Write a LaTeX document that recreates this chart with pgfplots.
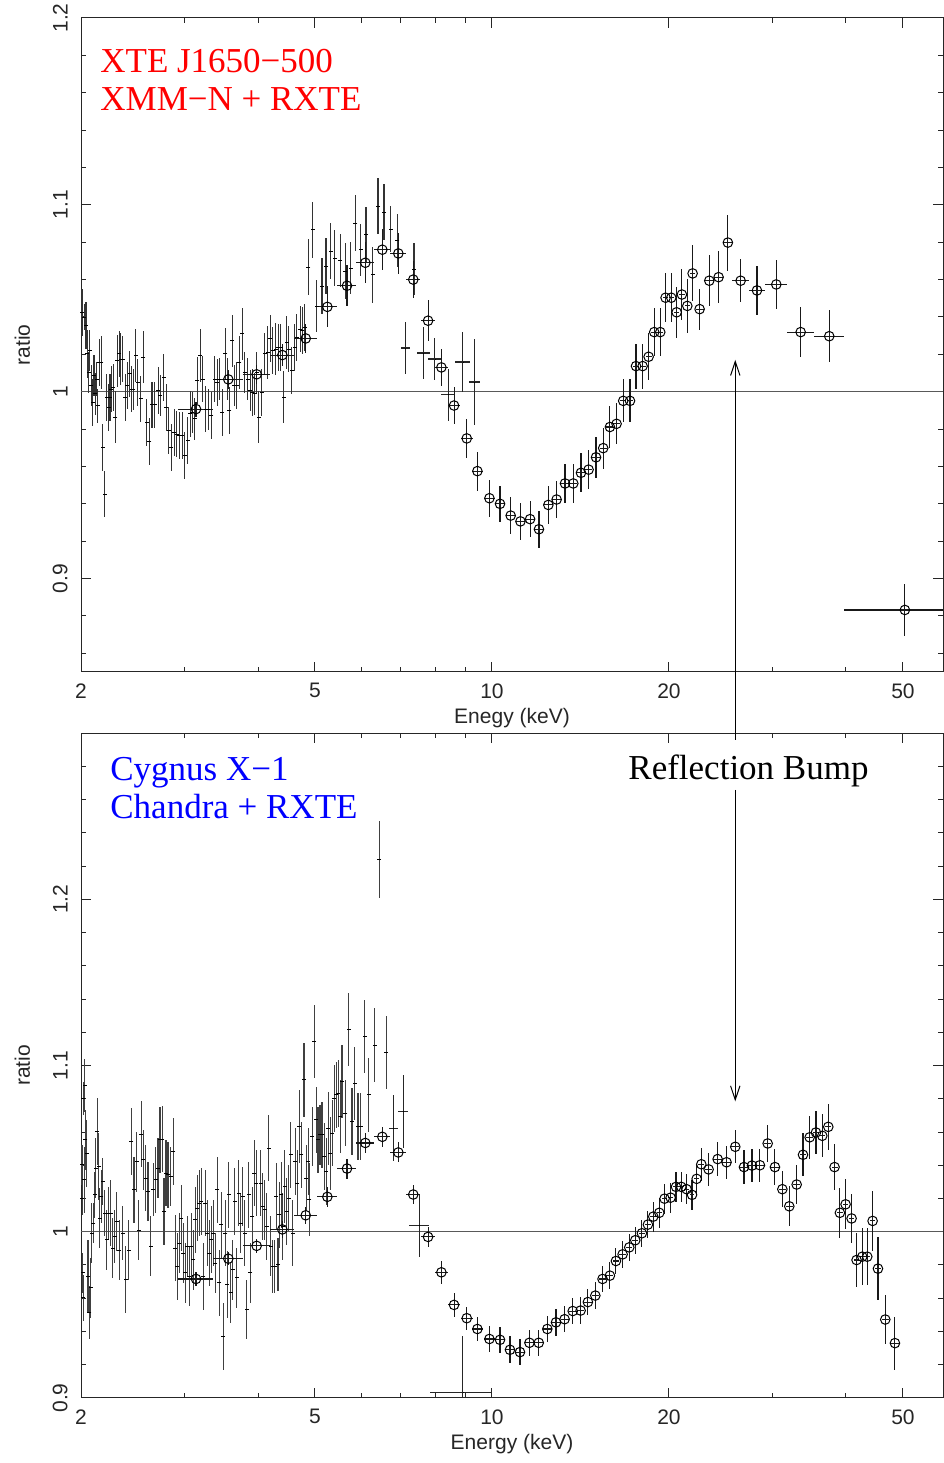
\documentclass[border=0pt]{standalone}
\usepackage{fontspec}
\setmainfont{Liberation Serif}
\newfontfamily\tickfont{Liberation Sans}
\usepackage{pgfplots}
\usepackage{pgfplotstable}
\pgfplotsset{compat=1.18}
\usetikzlibrary{arrows.meta}

\pgfplotstableread{
x y ey
2.008 1.0424 0.0125
2.024 1.0398 0.007
2.039 1.0353 0.0125
2.050 1.0202 0.013
2.061 1.0103 0.011
2.071 1.0219 0.011
2.082 1.0032 0.011
2.093 0.9943 0.0125
2.104 1.0086 0.011
2.115 0.9988 0.011
2.126 1.0068 0.009
2.137 0.9925 0.009
2.148 1.0157 0.0125
2.165 1.0157 0.014
2.176 0.9702 0.0125
2.194 0.9452 0.0125
2.211 0.9970 0.0125
2.229 0.9916 0.0125
2.240 0.9970 0.0125
2.252 1.0014 0.0125
2.269 1.0023 0.0125
2.287 0.9863 0.014
2.305 1.0166 0.014
2.323 1.0202 0.0125
2.335 1.0175 0.014
2.353 1.0175 0.0125
2.378 0.9970 0.0125
2.396 1.0032 0.0125
2.421 1.0095 0.0125
2.441 1.0014 0.0125
2.454 1.0014 0.011
2.479 1.0193 0.014
2.499 1.0050 0.0125
2.525 0.9961 0.0125
2.553 1.0184 0.014
2.586 0.9836 0.0125
2.613 0.9732 0.0125
2.641 0.9929 0.0125
2.670 0.9929 0.0125
2.705 1.0005 0.0125
2.727 0.9979 0.011
2.763 1.0077 0.0125
2.792 0.9916 0.0125
2.821 0.9791 0.0125
2.850 0.9702 0.0125
2.881 0.9782 0.0125
2.911 0.9773 0.0125
2.941 0.9765 0.0125
2.972 0.9765 0.0125
3.003 0.9658 0.0125
3.035 0.9738 0.0125
3.066 0.9881 0.0125
3.091 0.9889 0.011
3.123 0.9854 0.011
3.156 1.0059 0.0125
3.189 1.0193 0.014
3.223 1.0068 0.0125
3.257 0.9907 0.0125
3.291 0.9907 0.011
3.334 0.9872 0.0125
3.378 1.0068 0.0125
3.413 1.0050 0.0125
3.439 1.0068 0.011
3.475 0.9889 0.0125
3.521 1.0202 0.014
3.548 1.0068 0.011
3.576 0.9898 0.0125
3.614 1.0273 0.014
3.642 1.0032 0.011
3.680 1.0032 0.0125
3.719 1.0157 0.014
3.760 1.0309 0.014
3.799 1.0103 0.011
3.839 1.0068 0.011
3.880 1.0005 0.011
3.910 0.9996 0.0125
3.951 0.9988 0.011
3.983 1.0103 0.011
4.014 0.9863 0.014
4.056 0.9996 0.0125
4.110 1.0202 0.011
4.153 1.0210 0.014
4.196 1.0285 0.0125
4.240 1.0219 0.0125
4.285 1.0228 0.014
4.330 1.0237 0.0125
4.375 1.0237 0.0125
4.421 0.9970 0.014
4.479 1.0264 0.014
4.514 1.0228 0.0125
4.561 1.0112 0.0125
4.621 1.0237 0.0125
4.658 1.0291 0.0125
4.719 1.0335 0.0125
4.756 1.0326 0.0125
4.806 1.0344 0.0125
4.872 1.0665 0.015
4.956 1.0867 0.015
5.034 1.0457 0.014
5.140 1.0564 0.015
5.221 1.0671 0.015
5.318 1.0751 0.015
5.402 1.0715 0.015
5.516 1.0703 0.014
5.625 1.0644 0.015
5.750 1.0662 0.014
5.857 1.0902 0.015
5.981 1.0760 0.014
6.107 1.0840 0.015
6.268 1.0626 0.015
6.400 1.0992 0.015
6.553 1.0960 0.015
6.727 1.0870 0.0125
6.904 1.0810 0.014
7.370 1.0656 0.014
}\topxmm

\pgfplotstableread{
x y exl exu ey
7.124 1.0234 0.12 0.12 0.014
7.645 1.0207 0.20 0.20 0.014
7.993 1.0175 0.20 0.20 0.011
8.432 0.9984 0.23 0.23 0.014
8.918 1.0159 0.26 0.26 0.016
9.335 1.0052 0.20 0.20 0.023
}\topwide

\pgfplotstableread{
x y exl exu ey
3.138 0.9907 0.21 0.21 0.004
3.561 1.0066 0.21 0.21 0.005
3.979 1.0093 0.21 0.21 0.005
4.400 1.0196 0.21 0.21 0.006
4.822 1.0285 0.21 0.21 0.008
5.248 1.0454 0.21 0.21 0.011
5.668 1.0567 0.21 0.21 0.011
6.090 1.0690 0.21 0.21 0.011
6.509 1.0760 0.21 0.21 0.011
6.930 1.0740 0.21 0.21 0.011
7.348 1.0600 0.21 0.21 0.010
7.786 1.0380 0.21 0.21 0.011
8.203 1.0130 0.21 0.21 0.010
8.620 0.9926 0.21 0.21 0.010
9.059 0.9750 0.21 0.21 0.0105
9.444 0.9575 0.21 0.21 0.0105
9.900 0.9430 0.21 0.21 0.0098
10.32 0.9400 0.21 0.21 0.0098
10.76 0.9337 0.21 0.21 0.0098
11.18 0.9306 0.21 0.21 0.0098
11.61 0.9318 0.21 0.21 0.0098
12.02 0.9264 0.21 0.21 0.0098
12.47 0.9394 0.21 0.21 0.010
12.88 0.9423 0.21 0.21 0.010
13.31 0.9509 0.21 0.21 0.0105
13.75 0.9509 0.21 0.21 0.0105
14.17 0.9566 0.21 0.21 0.0105
14.60 0.9583 0.21 0.21 0.0105
15.03 0.9649 0.21 0.21 0.011
15.46 0.9698 0.21 0.21 0.011
15.87 0.9811 0.21 0.21 0.011
16.29 0.9828 0.21 0.21 0.011
16.72 0.9951 0.21 0.21 0.0115
17.17 0.9951 0.21 0.21 0.0115
17.58 1.0137 0.21 0.21 0.012
18.04 1.0137 0.21 0.21 0.012
18.47 1.0187 0.21 0.21 0.0125
18.88 1.0319 0.21 0.21 0.013
19.33 1.0319 0.21 0.21 0.013
19.74 1.0503 0.21 0.21 0.013
20.18 1.0503 0.21 0.21 0.013
20.61 1.0425 0.21 0.21 0.0135
21.04 1.0520 0.22 0.22 0.0135
21.49 1.0459 0.22 0.22 0.0145
21.94 1.0633 0.22 0.22 0.015
22.55 1.0442 0.35 0.35 0.011
23.42 1.0594 0.43 0.43 0.0135
24.29 1.0613 0.44 0.44 0.014
25.19 1.0798 0.45 0.45 0.015
26.48 1.0594 0.85 0.85 0.0115
28.23 1.0542 0.88 0.88 0.013
30.45 1.0574 1.30 1.30 0.013
33.50 1.0319 1.75 1.75 0.0135
37.47 1.0297 2.20 2.20 0.014
50.38 0.8832 10.7 13.6 0.014
}\toprxte

\pgfplotstableread{
x y ey
2.008 1.0402 0.012
2.011 1.0202 0.010
2.013 0.9752 0.012
2.016 0.9602 0.014
2.019 1.0800 0.010
2.024 1.0312 0.020
2.029 1.0880 0.016
2.034 1.0553 0.018
2.045 1.0472 0.020
2.055 0.9732 0.022
2.066 0.9512 0.016
2.077 0.9662 0.018
2.087 0.9992 0.018
2.098 1.0052 0.012
2.109 1.0222 0.014
2.120 1.0382 0.018
2.131 1.0603 0.020
2.142 1.0392 0.020
2.153 1.0082 0.018
2.165 1.0212 0.016
2.176 1.0302 0.014
2.194 1.0112 0.014
2.211 0.9952 0.018
2.229 1.0112 0.016
2.246 1.0112 0.020
2.264 0.9902 0.018
2.282 0.9972 0.016
2.300 1.0062 0.018
2.323 0.9888 0.018
2.353 0.9992 0.016
2.384 0.9712 0.020
2.409 0.9888 0.018
2.435 1.0543 0.020
2.461 1.0252 0.020
2.486 1.0422 0.018
2.506 1.0008 0.018
2.533 1.0587 0.020
2.553 1.0432 0.018
2.579 1.0322 0.020
2.600 1.0242 0.018
2.627 0.9912 0.018
2.655 1.0252 0.016
2.682 1.0312 0.020
2.704 1.0382 0.018
2.725 1.0553 0.020
2.747 1.0557 0.020
2.768 1.0122 0.020
2.790 1.0352 0.020
2.812 1.0342 0.020
2.842 1.0332 0.018
2.871 1.0482 0.020
2.894 0.9902 0.020
2.917 0.9792 0.020
2.940 0.9932 0.018
2.963 1.0082 0.020
2.986 0.9872 0.018
3.010 0.9752 0.018
3.033 0.9912 0.018
3.057 0.9732 0.018
3.081 0.9912 0.020
3.105 0.9832 0.018
3.129 1.0072 0.020
3.154 1.0142 0.020
3.178 1.0172 0.020
3.203 1.0182 0.020
3.229 0.9732 0.020
3.254 1.0172 0.020
3.280 0.9992 0.020
3.305 0.9872 0.020
3.331 0.9952 0.020
3.357 0.9992 0.020
3.384 0.9812 0.018
3.410 1.0252 0.020
3.437 0.9692 0.020
3.464 1.0042 0.020
3.491 0.9371 0.020
3.519 0.9992 0.020
3.546 0.9682 0.020
3.565 1.0222 0.020
3.593 0.9632 0.018
3.621 0.9772 0.018
3.650 1.0182 0.020
3.678 0.9722 0.018
3.707 1.0232 0.020
3.736 1.0052 0.018
3.765 1.0212 0.018
3.795 0.9992 0.020
3.824 0.9532 0.018
3.854 1.0222 0.020
3.884 0.9752 0.018
3.914 1.0092 0.018
3.945 1.0352 0.020
3.976 1.0292 0.020
4.043 1.0292 0.020
4.074 1.0152 0.020
4.106 1.0132 0.018
4.139 1.0032 0.020
4.171 1.0503 0.020
4.204 0.9912 0.018
4.237 0.9792 0.016
4.270 0.9792 0.016
4.293 1.0212 0.020
4.326 0.9802 0.016
4.349 1.0102 0.020
4.383 1.0222 0.020
4.406 1.0032 0.020
4.441 1.0272 0.022
4.476 1.0122 0.020
4.511 1.0202 0.020
4.547 1.0462 0.020
4.582 0.9992 0.020
4.630 1.0422 0.020
4.667 1.0292 0.020
4.703 1.0633 0.022
4.740 1.0462 0.020
4.790 1.0913 0.022
4.828 1.0322 0.020
4.866 1.0422 0.020
4.891 1.0192 0.022
4.943 1.0573 0.018
4.982 1.1143 0.022
5.021 1.0673 0.020
5.060 1.0553 0.020
5.100 1.0583 0.018
5.140 1.0583 0.020
5.181 1.0452 0.020
5.222 1.0362 0.020
5.263 1.0623 0.022
5.304 1.0472 0.022
5.346 1.0593 0.020
5.388 1.0803 0.020
5.430 1.0823 0.020
5.473 1.0833 0.020
5.516 1.0693 0.022
5.559 1.0903 0.022
5.632 1.0713 0.020
5.706 1.1217 0.022
5.781 1.0663 0.020
5.842 1.0893 0.022
5.918 1.0633 0.020
5.981 1.0633 0.020
6.075 1.1173 0.022
6.171 1.0823 0.022
6.318 1.1123 0.022
6.430 1.2240 0.023
6.605 1.1077 0.022
}\botchandra

\pgfplotstableread{
x y exl exu ey
6.797 1.0623 0.12 0.12 0.020
7.068 1.0723 0.14 0.14 0.022
7.520 1.0037 0.30 0.30 0.019
8.920 0.9034 1.07 1.08 0.034
}\botwide

\pgfplotstableread{
x y exl exu ey
3.138 0.9716 0.21 0.21 0.004
3.561 0.9838 0.21 0.21 0.004
3.979 0.9915 0.21 0.21 0.004
4.400 1.0014 0.21 0.21 0.005
4.822 1.0099 0.21 0.21 0.005
5.248 1.0210 0.21 0.21 0.006
5.668 1.0380 0.21 0.21 0.006
6.090 1.0534 0.21 0.21 0.006
6.509 1.0571 0.21 0.21 0.006
6.930 1.0477 0.21 0.21 0.006
7.348 1.0224 0.21 0.21 0.006
7.786 0.9969 0.21 0.21 0.006
8.203 0.9756 0.21 0.21 0.007
8.620 0.9560 0.21 0.21 0.007
9.059 0.9480 0.21 0.21 0.007
9.444 0.9415 0.21 0.21 0.007
9.900 0.9355 0.21 0.21 0.008
10.32 0.9350 0.21 0.21 0.008
10.73 0.9290 0.21 0.21 0.008
11.16 0.9276 0.21 0.21 0.008
11.58 0.9332 0.21 0.21 0.008
12.01 0.9332 0.21 0.21 0.008
12.42 0.9415 0.21 0.21 0.008
12.85 0.9455 0.21 0.21 0.008
13.29 0.9474 0.21 0.21 0.008
13.72 0.9523 0.21 0.21 0.008
14.15 0.9526 0.21 0.21 0.008
14.56 0.9577 0.21 0.21 0.008
14.99 0.9616 0.21 0.21 0.008
15.42 0.9716 0.21 0.21 0.008
15.87 0.9736 0.21 0.21 0.008
16.25 0.9824 0.21 0.21 0.008
16.68 0.9864 0.21 0.21 0.008
17.12 0.9906 0.21 0.21 0.008
17.53 0.9949 0.21 0.21 0.008
17.99 0.9991 0.21 0.21 0.008
18.42 1.0043 0.21 0.21 0.008
18.81 1.0091 0.21 0.21 0.009
19.26 1.0114 0.21 0.21 0.009
19.66 1.0199 0.21 0.21 0.009
20.13 1.0205 0.21 0.21 0.009
20.56 1.0270 0.21 0.21 0.009
20.99 1.0270 0.21 0.21 0.009
21.43 1.0256 0.21 0.21 0.009
21.89 1.0222 0.21 0.21 0.009
22.29 1.0318 0.21 0.21 0.009
22.70 1.0406 0.25 0.25 0.010
23.36 1.0375 0.35 0.35 0.010
24.20 1.0437 0.43 0.43 0.010
25.06 1.0418 0.43 0.43 0.010
25.93 1.0511 0.43 0.43 0.010
26.83 1.0389 0.43 0.43 0.010
27.68 1.0398 0.43 0.43 0.010
28.56 1.0400 0.43 0.43 0.010
29.44 1.0531 0.43 0.43 0.011
30.29 1.0389 0.43 0.43 0.011
31.18 1.0256 0.43 0.43 0.011
32.04 1.0153 0.43 0.43 0.012
32.98 1.0284 0.43 0.43 0.012
33.81 1.0463 0.43 0.43 0.013
34.70 1.0568 0.43 0.43 0.013
35.57 1.0597 0.43 0.43 0.013
36.46 1.0577 0.43 0.43 0.013
37.33 1.0631 0.43 0.43 0.014
38.26 1.0389 0.45 0.45 0.014
39.07 1.0114 0.45 0.45 0.015
39.95 1.0165 0.45 0.45 0.015
40.89 1.0080 0.45 0.45 0.015
41.70 0.9830 0.45 0.45 0.016
42.64 0.9850 0.45 0.45 0.017
43.48 0.9850 0.45 0.45 0.017
44.40 1.0065 0.45 0.45 0.018
45.34 0.9778 0.50 0.50 0.019
46.66 0.9472 0.65 0.65 0.015
48.46 0.9330 0.90 0.90 0.016
}\botrxte

\begin{document}
\begin{tikzpicture}
\path (0,0) rectangle (471.5pt,731.5pt);

% ================= TOP PANEL =================
\begin{axis}[
  at={(40.5pt,395.5pt)}, anchor=south west,
  scale only axis, width=431pt, height=327pt,
  xmode=log, xmin=2, xmax=58.5,
  ymin=0.85, ymax=1.2,
  xtick={2,5,10,20,50}, xticklabels={2,5,10,20,50},
  minor xtick={3,4,6,7,8,9,30,40},
  ytick={0.9,1,1.1,1.2}, yticklabels={0.9,1,1.1,1.2},
  minor ytick={0.86,0.88,0.92,0.94,0.96,0.98,1.02,1.04,1.06,1.08,1.12,1.14,1.16,1.18},
  tick align=inside,
  major tick length=5pt, minor tick length=2.5pt,
  tick style={black!85, line width=0.5pt},
  axis line style={black!85, line width=0.5pt},
  tick label style={font=\tickfont\fontsize{10.5}{12}\selectfont, black!85},
  xticklabel style={anchor=north, inner sep=0pt, yshift=-5.5pt},
  yticklabel style={rotate=90, anchor=south, inner sep=0pt, yshift=6.5pt},
  label style={font=\tickfont\fontsize{10.5}{12}\selectfont, black!85},
  xlabel={Enegy (keV)}, ylabel={ratio},
  ylabel style={at={(axis description cs:-0.068,0.5)}, anchor=center},
  xlabel style={at={(axis description cs:0.5,0)}, anchor=center, yshift=-23pt},
]
\addplot[black!65, line width=0.6pt, forget plot] coordinates {(2,1) (58.5,1)};
\addplot[only marks, mark=-, mark size=1pt, black, mark options={line width=0.5pt},
  error bars/y dir=both, error bars/y explicit, error bars/error mark=none,
  error bars/error bar style={line width=0.55pt, black!80}]
  table[x=x, y=y, y error=ey] {\topxmm};
\addplot[only marks, mark=-, mark size=0.1pt, black,
  error bars/x dir=both, error bars/x explicit,
  error bars/y dir=both, error bars/y explicit, error bars/error mark=none,
  error bars/error bar style={line width=0.55pt, black!85}]
  table[x=x, y=y, x error minus=exl, x error plus=exu, y error=ey] {\topwide};
\addplot[only marks, mark=o, mark size=2.4pt, black, mark options={line width=0.5pt},
  error bars/x dir=both, error bars/x explicit,
  error bars/y dir=both, error bars/y explicit, error bars/error mark=none,
  error bars/error bar style={line width=0.55pt, black!90}]
  table[x=x, y=y, x error minus=exl, x error plus=exu, y error=ey] {\toprxte};
\node[anchor=base west, text=red, font=\fontsize{17.5}{21}\selectfont, inner sep=0pt]
  at (rel axis cs:0.022,0.9164) {XTE J1650−500};
\node[anchor=base west, text=red, font=\fontsize{17.5}{21}\selectfont, inner sep=0pt]
  at (rel axis cs:0.022,0.8578) {XMM−N + RXTE};
\coordinate (ArrA) at (axis cs:25.93,1.017);
\end{axis}

% ================= BOTTOM PANEL =================
\begin{axis}[
  at={(40.5pt,32.5pt)}, anchor=south west,
  scale only axis, width=431pt, height=332.5pt,
  xmode=log, xmin=2, xmax=58.5,
  ymin=0.9, ymax=1.3,
  xtick={2,5,10,20,50}, xticklabels={2,5,10,20,50},
  minor xtick={3,4,6,7,8,9,30,40},
  ytick={0.9,1,1.1,1.2}, yticklabels={0.9,1,1.1,1.2},
  minor ytick={0.92,0.94,0.96,0.98,1.02,1.04,1.06,1.08,1.12,1.14,1.16,1.18,1.22,1.24,1.26,1.28},
  tick align=inside,
  major tick length=5pt, minor tick length=2.5pt,
  tick style={black!85, line width=0.5pt},
  axis line style={black!85, line width=0.5pt},
  tick label style={font=\tickfont\fontsize{10.5}{12}\selectfont, black!85},
  xticklabel style={anchor=north, inner sep=0pt, yshift=-5.5pt},
  yticklabel style={rotate=90, anchor=south, inner sep=0pt, yshift=6.5pt},
  label style={font=\tickfont\fontsize{10.5}{12}\selectfont, black!85},
  xlabel={Energy (keV)}, ylabel={ratio},
  ylabel style={at={(axis description cs:-0.068,0.5)}, anchor=center},
  xlabel style={at={(axis description cs:0.5,0)}, anchor=center, yshift=-23pt},
]
\addplot[black!65, line width=0.6pt, forget plot] coordinates {(2,1) (58.5,1)};
\addplot[only marks, mark=-, mark size=1pt, black, mark options={line width=0.5pt},
  error bars/y dir=both, error bars/y explicit, error bars/error mark=none,
  error bars/error bar style={line width=0.55pt, black!75}]
  table[x=x, y=y, y error=ey] {\botchandra};
\addplot[only marks, mark=-, mark size=0.1pt, black,
  error bars/x dir=both, error bars/x explicit,
  error bars/y dir=both, error bars/y explicit, error bars/error mark=none,
  error bars/error bar style={line width=0.55pt, black!85}]
  table[x=x, y=y, x error minus=exl, x error plus=exu, y error=ey] {\botwide};
\addplot[only marks, mark=o, mark size=2.4pt, black, mark options={line width=0.5pt},
  error bars/x dir=both, error bars/x explicit,
  error bars/y dir=both, error bars/y explicit, error bars/error mark=none,
  error bars/error bar style={line width=0.55pt, black!90}]
  table[x=x, y=y, x error minus=exl, x error plus=exu, y error=ey] {\botrxte};
\node[anchor=base west, text=blue, font=\fontsize{17.5}{21}\selectfont, inner sep=0pt]
  at (rel axis cs:0.0336,0.9293) {Cygnus X−1};
\node[anchor=base west, text=blue, font=\fontsize{17.5}{21}\selectfont, inner sep=0pt]
  at (rel axis cs:0.0336,0.8707) {Chandra + RXTE};
\node[anchor=base west, text=black, font=\fontsize{17.5}{21}\selectfont, inner sep=0pt]
  at (rel axis cs:0.6346,0.9308) {Reflection Bump};
\coordinate (ArrB) at (axis cs:25.93,1.2958);
\coordinate (ArrC) at (axis cs:25.93,1.2658);
\coordinate (ArrD) at (axis cs:25.93,1.0784);
\end{axis}

\draw[line width=0.5pt, black, {Straight Barb[length=7pt,width=4.7pt]}-] (ArrA) -- (ArrB);
\draw[line width=0.5pt, black, -{Straight Barb[length=7pt,width=4.7pt]}] (ArrC) -- (ArrD);
\end{tikzpicture}
\end{document}
